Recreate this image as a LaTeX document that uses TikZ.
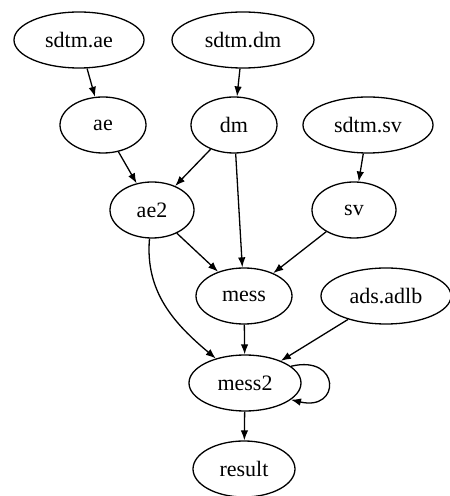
\documentclass[tikz,border=0pt]{standalone}
\usepackage{fontspec}
\newfontfamily\gvfont{LiberationSerif-Regular.ttf}
\usetikzlibrary{shapes.geometric, arrows, arrows.meta}

\begin{document}
\begin{tikzpicture}[x=1pt, y=1pt, >={Latex[length=10pt, width=7.5pt]},
  dep/.style={ellipse, draw, line width=1.3pt, inner sep=0pt, minimum height=56pt,
    font=\gvfont\fontsize{22}{26}\selectfont},
  flow/.style={->, line width=1.3pt}]
 \useasboundingbox (0,0) rectangle (450,496);
 %sources
 \node[dep, minimum width=130pt] (sdtmae) at (79,456) {sdtm.ae};
 \node[dep, minimum width=142pt] (sdtmdm) at (243,456) {sdtm.dm};
 \node[dep, minimum width=130pt] (sdtmsv) at (368,371) {sdtm.sv};
 \node[dep, minimum width=130pt] (adlb) at (386,200) {ads.adlb};
 %derived
 \node[dep, minimum width=86pt] (ae) at (103,371) {ae};
 \node[dep, minimum width=86pt] (dm) at (234,371) {dm};
 \node[dep, minimum width=84pt] (ae2) at (152,286) {ae2};
 \node[dep, minimum width=84pt] (sv) at (354,286) {sv};
 \node[dep, minimum width=96pt] (mess) at (244,200) {mess};
 \node[dep, minimum width=112pt] (mess2) at (245,113) {mess2};
 \node[dep, minimum width=102pt] (result) at (244,27) {result};
 %edges
 \draw[flow] (sdtmae) -- (ae);
 \draw[flow] (sdtmdm) -- (dm);
 \draw[flow] (sdtmsv) -- (sv);
 \draw[flow] (ae) -- (ae2);
 \draw[flow] (dm) -- (ae2);
 \draw[flow] (dm) -- (mess);
 \draw[flow] (ae2) -- (mess);
 \draw[flow] (sv) -- (mess);
 \draw[flow] (ae2) to[out=-95, in=140] (mess2);
 \draw[flow] (mess) -- (mess2);
 \draw[flow] (adlb) -- (mess2);
 \draw[flow] (mess2.20) .. controls +(50,12) and +(50,-12) .. (mess2.-20);
 \draw[flow] (mess2) -- (result);
\end{tikzpicture}
\end{document}
